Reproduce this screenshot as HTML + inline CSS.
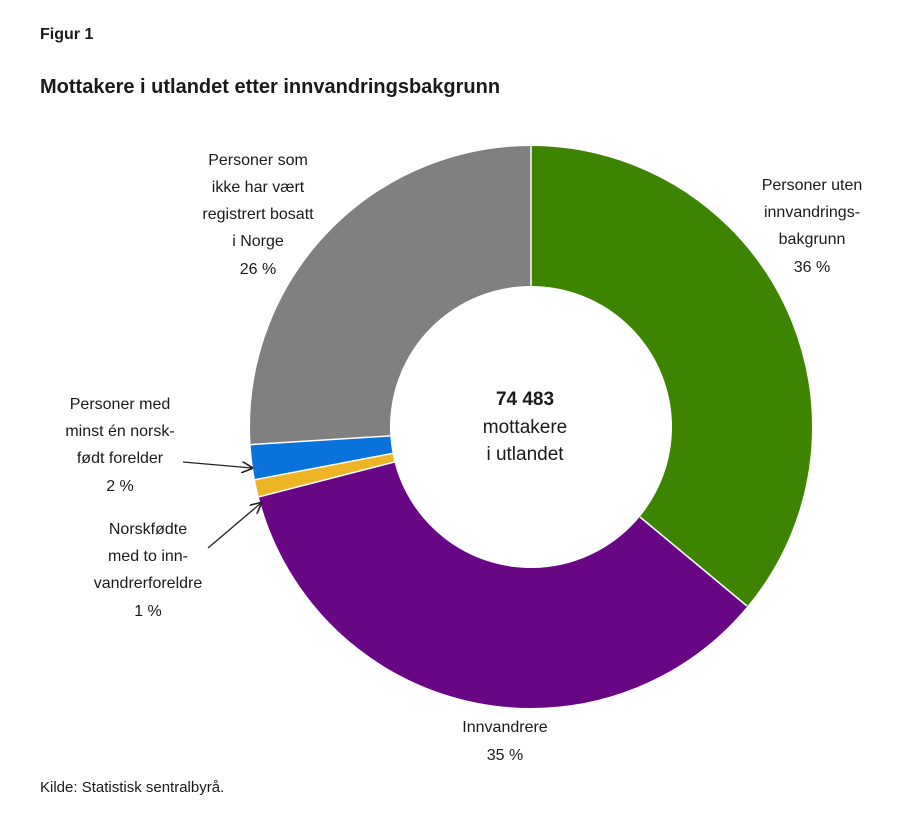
<!DOCTYPE html>
<html><head><meta charset="utf-8"><style>
html,body{margin:0;padding:0;background:#fff;}
svg text{font-family:"Liberation Sans",sans-serif;fill:#1a1a1a;}
</style></head><body>
<svg width="913" height="808" viewBox="0 0 913 808" xmlns="http://www.w3.org/2000/svg">
<defs><marker id="ah" viewBox="0 0 10 10" refX="9" refY="5" markerWidth="9" markerHeight="9" orient="auto"><path d="M0,0 L10,5 L0,10" fill="none" stroke="#222" stroke-width="1.4"/></marker></defs>
<text x="40" y="39" font-size="16" font-weight="bold">Figur 1</text>
<text x="40" y="93" font-size="20" font-weight="bold" fill="#222">Mottakere i utlandet etter innvandringsbakgrunn</text>
<g transform="rotate(-90 531 427)" fill="none" stroke-width="140">
<circle cx="531" cy="427" r="211" stroke="#3d8500" stroke-dasharray="477.3 2000" stroke-dashoffset="0"/>
<circle cx="531" cy="427" r="211" stroke="#690685" stroke-dasharray="464 2000" stroke-dashoffset="-477.3"/>
<circle cx="531" cy="427" r="211" stroke="#edb426" stroke-dasharray="13.3 2000" stroke-dashoffset="-941.3"/>
<circle cx="531" cy="427" r="211" stroke="#0a72db" stroke-dasharray="26.5 2000" stroke-dashoffset="-954.6"/>
<circle cx="531" cy="427" r="211" stroke="#808080" stroke-dasharray="344.7 2000" stroke-dashoffset="-981.1"/>
</g>
<g stroke="#fff" stroke-width="1.5">
<line x1="531" y1="286" x2="531" y2="146"/>
<line x1="640" y1="517" x2="747" y2="606"/>
<line x1="394.4" y1="462" x2="258.8" y2="496.9"/>
<line x1="392.5" y1="453.4" x2="255" y2="479.7"/>
<line x1="390.3" y1="435.9" x2="250.6" y2="444.6"/>
</g>
<text text-anchor="middle" font-size="19" x="525" y="405" font-weight="bold">74 483</text>
<text text-anchor="middle" font-size="19" x="525" y="433">mottakere</text>
<text text-anchor="middle" font-size="19" x="525" y="460">i utlandet</text>
<g font-size="16" text-anchor="middle">
<text x="812" y="190">Personer uten</text>
<text x="812" y="217">innvandrings-</text>
<text x="812" y="244">bakgrunn</text>
<text x="812" y="272">36 %</text>
<text x="258" y="165">Personer som</text>
<text x="258" y="192">ikke har vært</text>
<text x="258" y="219">registrert bosatt</text>
<text x="258" y="246">i Norge</text>
<text x="258" y="274">26 %</text>
<text x="120" y="409">Personer med</text>
<text x="120" y="436">minst én norsk-</text>
<text x="120" y="463">født forelder</text>
<text x="120" y="491">2 %</text>
<text x="148" y="534">Norskfødte</text>
<text x="148" y="561">med to inn-</text>
<text x="148" y="588">vandrerforeldre</text>
<text x="148" y="616">1 %</text>
<text x="505" y="732">Innvandrere</text>
<text x="505" y="760">35 %</text>
</g>
<line x1="183" y1="462" x2="252" y2="468" stroke="#222" stroke-width="1.3" marker-end="url(#ah)"/>
<line x1="208" y1="548" x2="261" y2="503" stroke="#222" stroke-width="1.3" marker-end="url(#ah)"/>
<text x="40" y="792" font-size="15">Kilde: Statistisk sentralbyrå.</text>
</svg>
</body></html>
